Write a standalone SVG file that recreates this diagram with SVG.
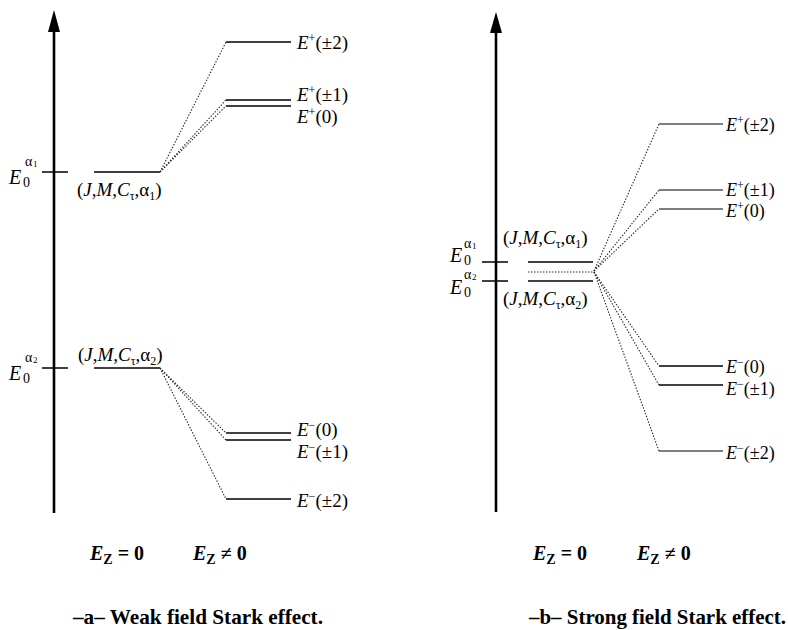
<svg xmlns="http://www.w3.org/2000/svg" width="788" height="630" viewBox="0 0 788 630" font-family="'Liberation Serif', 'Times New Roman', serif">
<style>
text{font-family:"Liberation Serif","Times New Roman",serif;fill:#000}
.lbl{font-size:19px}
.lbr{font-size:18px}
.it{font-style:italic}
.sm{font-size:12px}
.tk{font-size:20px;font-style:italic}
.sb{font-size:14px}
.sa{font-size:14px}
.s1{font-size:9px}
.axis{stroke:#000;stroke-width:2.6;fill:none}
.lev{stroke:#000;stroke-width:1.5;fill:none}
.lev2{stroke:#000;stroke-width:1.2;fill:none}
.dot{stroke:#222;stroke-width:1.1;stroke-dasharray:1.4 1.6;fill:none}
.bold{font-weight:bold;font-size:20px}
.cap{font-weight:bold;font-size:21px}
</style>

<!-- Panel a -->
<g id="axis-a">
<line class="axis" x1="54" y1="30" x2="54" y2="513"/>
<polygon points="48,32 60,32 54,10" fill="#000"/>
<line class="lev" x1="42" y1="172" x2="68" y2="172"/>
<line class="lev" x1="42" y1="368" x2="68" y2="368"/>
</g>
<g id="tick-a-alpha1">
<text class="tk" x="9" y="184">E</text>
<text class="sb" x="23" y="187">0</text>
<text class="sa" x="25" y="166">α</text>
<text class="s1" x="33" y="167">1</text>
</g>
<g id="tick-a-alpha2">
<text class="tk" x="9" y="380">E</text>
<text class="sb" x="23" y="383">0</text>
<text class="sa" x="25" y="362">α</text>
<text class="s1" x="33" y="363">2</text>
</g>
<g id="level-a-alpha1">
<line class="lev" x1="94" y1="172" x2="160" y2="172"/>
<text class="lbl" x="77" y="196">(<tspan class="it">J</tspan>,<tspan class="it">M</tspan>,<tspan class="it">C</tspan><tspan class="sm" dy="4">τ</tspan><tspan dy="-4">,α</tspan><tspan class="sm" dy="4">1</tspan><tspan dy="-4">)</tspan></text>
</g>
<g id="level-a-alpha2">
<line class="lev" x1="94" y1="368" x2="160" y2="368"/>
<text class="lbl" x="78" y="361">(<tspan class="it">J</tspan>,<tspan class="it">M</tspan>,<tspan class="it">C</tspan><tspan class="sm" dy="4">τ</tspan><tspan dy="-4">,α</tspan><tspan class="sm" dy="4">2</tspan><tspan dy="-4">)</tspan></text>
</g>
<g id="a-Ep2">
<line class="lev" x1="226" y1="42" x2="291" y2="42"/>
<text class="lbl" x="297" y="49"><tspan class="it">E</tspan><tspan class="sm" dy="-7">+</tspan><tspan dy="7">(±2)</tspan></text>
</g>
<g id="a-Ep1">
<line class="lev" x1="226" y1="100" x2="291" y2="100"/>
<text class="lbl" x="297" y="101"><tspan class="it">E</tspan><tspan class="sm" dy="-7">+</tspan><tspan dy="7">(±1)</tspan></text>
</g>
<g id="a-Ep0">
<line class="lev" x1="226" y1="106" x2="291" y2="106"/>
<text class="lbl" x="297" y="123"><tspan class="it">E</tspan><tspan class="sm" dy="-7">+</tspan><tspan dy="7">(0)</tspan></text>
</g>
<g id="a-Em0">
<line class="lev" x1="226" y1="433" x2="291" y2="433"/>
<text class="lbl" x="297" y="436"><tspan class="it">E</tspan><tspan class="sm" dy="-7">−</tspan><tspan dy="7">(0)</tspan></text>
</g>
<g id="a-Em1">
<line class="lev" x1="226" y1="440" x2="291" y2="440"/>
<text class="lbl" x="297" y="458"><tspan class="it">E</tspan><tspan class="sm" dy="-7">−</tspan><tspan dy="7">(±1)</tspan></text>
</g>
<g id="a-Em2">
<line class="lev" x1="226" y1="499" x2="291" y2="499"/>
<text class="lbl" x="297" y="507"><tspan class="it">E</tspan><tspan class="sm" dy="-7">−</tspan><tspan dy="7">(±2)</tspan></text>
</g>

<!-- Panel b -->
<g id="axis-b">
<line class="axis" x1="496" y1="32" x2="496" y2="512"/>
<polygon points="490,33 502,33 496,12" fill="#000"/>
<line class="lev" x1="482" y1="262" x2="508" y2="262"/>
<line class="lev" x1="482" y1="281" x2="508" y2="281"/>
</g>
<g id="tick-b-alpha1">
<text class="tk" x="450" y="262">E</text>
<text class="sb" x="464" y="265">0</text>
<text class="sa" x="464" y="248">α</text>
<text class="s1" x="472" y="249">1</text>
</g>
<g id="tick-b-alpha2">
<text class="tk" x="450" y="294">E</text>
<text class="sb" x="464" y="297">0</text>
<text class="sa" x="464" y="279">α</text>
<text class="s1" x="472" y="280">2</text>
</g>
<g id="level-b-alpha1">
<line class="lev" x1="528" y1="262" x2="593" y2="262"/>
<text class="lbl" x="503" y="244">(<tspan class="it">J</tspan>,<tspan class="it">M</tspan>,<tspan class="it">C</tspan><tspan class="sm" dy="4">τ</tspan><tspan dy="-4">,α</tspan><tspan class="sm" dy="4">1</tspan><tspan dy="-4">)</tspan></text>
</g>
<g id="level-b-alpha2">
<line class="lev" x1="528" y1="281" x2="593" y2="281"/>
<text class="lbl" x="503" y="305">(<tspan class="it">J</tspan>,<tspan class="it">M</tspan>,<tspan class="it">C</tspan><tspan class="sm" dy="4">τ</tspan><tspan dy="-4">,α</tspan><tspan class="sm" dy="4">2</tspan><tspan dy="-4">)</tspan></text>
</g>
<g id="b-Ep2">
<line class="lev2" x1="659" y1="124" x2="723" y2="124"/>
<text class="lbr" x="726" y="131"><tspan class="it">E</tspan><tspan class="sm" dy="-7">+</tspan><tspan dy="7">(±2)</tspan></text>
</g>
<g id="b-Ep1">
<line class="lev2" x1="659" y1="190" x2="723" y2="190"/>
<text class="lbr" x="726" y="196"><tspan class="it">E</tspan><tspan class="sm" dy="-7">+</tspan><tspan dy="7">(±1)</tspan></text>
</g>
<g id="b-Ep0">
<line class="lev2" x1="659" y1="209" x2="723" y2="209"/>
<text class="lbr" x="726" y="217"><tspan class="it">E</tspan><tspan class="sm" dy="-7">+</tspan><tspan dy="7">(0)</tspan></text>
</g>
<g id="b-Em0">
<line class="lev" x1="659" y1="366" x2="723" y2="366"/>
<text class="lbr" x="726" y="373"><tspan class="it">E</tspan><tspan class="sm" dy="-7">−</tspan><tspan dy="7">(0)</tspan></text>
</g>
<g id="b-Em1">
<line class="lev" x1="659" y1="385" x2="723" y2="385"/>
<text class="lbr" x="726" y="395"><tspan class="it">E</tspan><tspan class="sm" dy="-7">−</tspan><tspan dy="7">(±1)</tspan></text>
</g>
<g id="b-Em2">
<line class="lev2" x1="659" y1="451" x2="723" y2="451"/>
<text class="lbr" x="726" y="459"><tspan class="it">E</tspan><tspan class="sm" dy="-7">−</tspan><tspan dy="7">(±2)</tspan></text>
</g>

<g id="connectors">
<line class="dot" x1="160" y1="172" x2="226" y2="42"/>
<line class="dot" x1="160" y1="172" x2="226" y2="100"/>
<line class="dot" x1="160" y1="172" x2="226" y2="106"/>
<line class="dot" x1="160" y1="368" x2="226" y2="433"/>
<line class="dot" x1="160" y1="368" x2="226" y2="440"/>
<line class="dot" x1="160" y1="368" x2="226" y2="499"/>
<line class="dot" x1="528" y1="272" x2="594" y2="272"/>
<line class="dot" x1="594" y1="271" x2="659" y2="124"/>
<line class="dot" x1="594" y1="271" x2="659" y2="190"/>
<line class="dot" x1="594" y1="271" x2="659" y2="209"/>
<line class="dot" x1="594" y1="272" x2="659" y2="366"/>
<line class="dot" x1="594" y1="272" x2="659" y2="385"/>
<line class="dot" x1="594" y1="272" x2="659" y2="451"/>
</g>

<g id="field-labels">
<text class="bold" x="90" y="560"><tspan font-style="italic">E</tspan><tspan font-size="14" dy="4">Z</tspan><tspan dy="-4"> = 0</tspan></text>
<text class="bold" x="193" y="560"><tspan font-style="italic">E</tspan><tspan font-size="14" dy="4">Z</tspan><tspan dy="-4"> ≠ 0</tspan></text>
<text class="bold" x="533" y="560"><tspan font-style="italic">E</tspan><tspan font-size="14" dy="4">Z</tspan><tspan dy="-4"> = 0</tspan></text>
<text class="bold" x="637" y="560"><tspan font-style="italic">E</tspan><tspan font-size="14" dy="4">Z</tspan><tspan dy="-4"> ≠ 0</tspan></text>
</g>
<g id="captions">
<text class="cap" x="73" y="624" textLength="250" lengthAdjust="spacingAndGlyphs">–a– Weak field Stark effect.</text>
<text class="cap" x="529" y="624" textLength="257" lengthAdjust="spacingAndGlyphs">–b– Strong field Stark effect.</text>
</g>
</svg>
